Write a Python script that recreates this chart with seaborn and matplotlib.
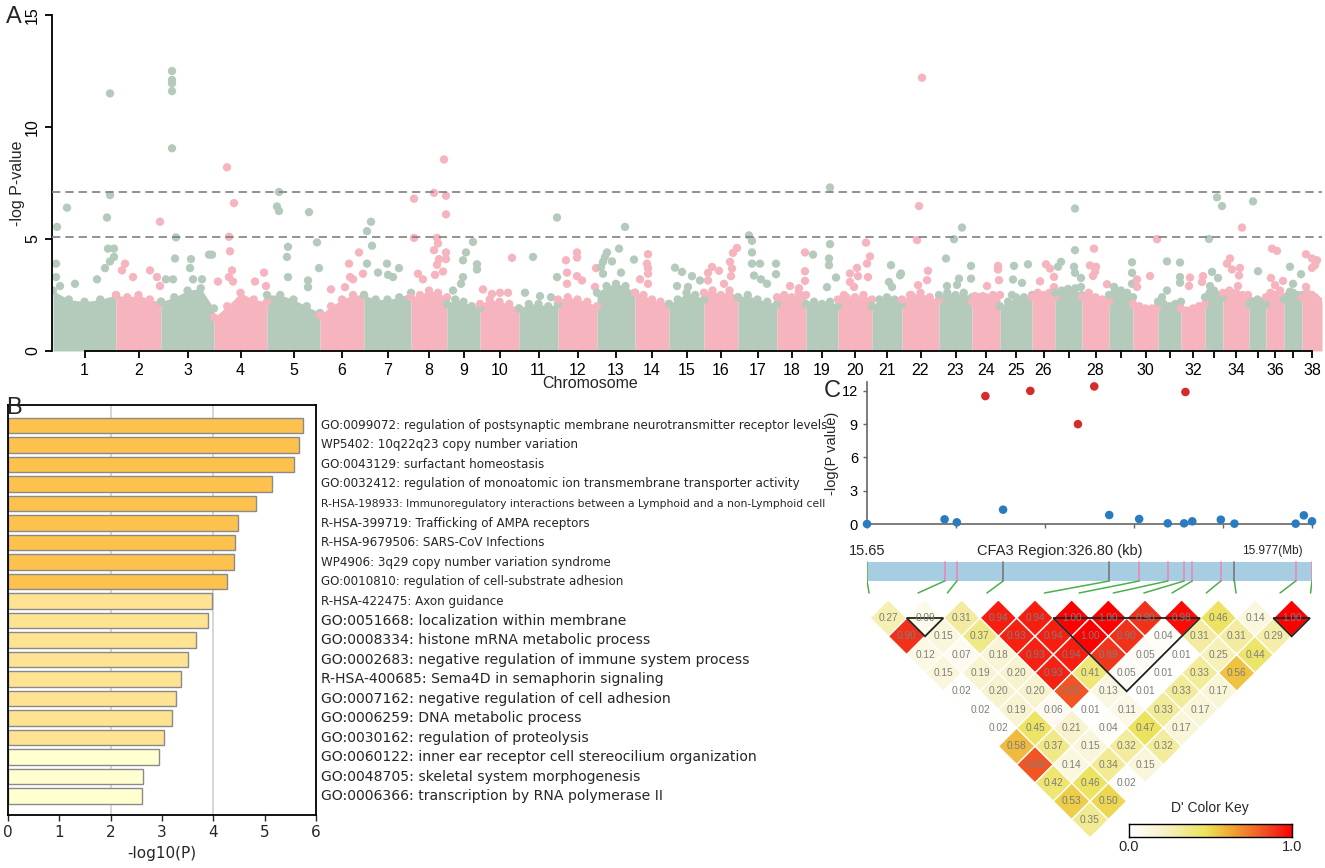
import numpy as np
import pandas as pd
import seaborn as sns
import matplotlib.pyplot as plt
from matplotlib.colors import LinearSegmentedColormap
from matplotlib.patches import Polygon, Rectangle

W, H = 1325, 868

# ---------------- panel A: manhattan ----------------
chrom_len = [63, 45, 53, 53, 53, 44, 47, 36, 33, 39, 39, 39, 38, 34, 35, 34, 39, 29, 32,
             34, 30, 37, 33, 28, 32, 23, 27, 27, 24, 25, 23, 24, 18, 26, 17, 18, 18, 20]
# top of the dense cloud of SNPs, read at 0, 1/4, 1/2, 3/4 and end of each chromosome
cloud_top = [
    [2.7, 2.3, 2.2, 2.3, 2.5], [2.5, 2.4, 2.5, 2.3, 2.2], [2.2, 2.4, 2.7, 2.8, 1.9],
    [1.5, 2.0, 2.6, 2.3, 2.2], [2.5, 2.5, 2.3, 2.0, 1.7], [1.6, 2.0, 2.3, 2.5, 2.5],
    [2.5, 2.3, 2.3, 2.4, 2.6], [2.4, 2.5, 2.7, 2.6, 2.4], [2.1, 2.3, 2.2, 2.0, 1.9],
    [2.1, 2.3, 2.2, 2.1, 1.9], [1.9, 2.1, 2.1, 2.0, 2.1], [2.3, 2.4, 2.3, 2.2, 2.0],
    [2.6, 2.9, 3.0, 2.9, 2.6], [2.6, 2.5, 2.3, 2.2, 2.1], [2.1, 2.3, 2.6, 2.5, 2.3],
    [2.6, 2.7, 2.5, 2.7, 2.4], [2.4, 2.5, 2.3, 2.2, 2.1], [2.4, 2.5, 2.4, 2.6, 2.5],
    [2.1, 2.2, 2.1, 2.2, 2.0], [2.3, 2.4, 2.4, 2.5, 2.3], [2.0, 2.3, 2.4, 2.3, 2.1],
    [2.3, 2.5, 2.6, 2.4, 2.3], [2.5, 2.6, 2.5, 2.6, 2.4], [2.2, 2.4, 2.4, 2.5, 2.5],
    [2.0, 2.2, 2.4, 2.4, 2.5], [2.4, 2.6, 2.5, 2.6, 2.4], [2.6, 2.7, 2.7, 2.8, 2.5],
    [2.4, 2.6, 2.4, 2.3, 2.2], [2.5, 2.7, 2.7, 2.6, 2.4], [2.1, 2.0, 1.9, 1.9, 2.0],
    [2.2, 2.1, 2.0, 2.1, 2.2], [1.9, 1.8, 1.9, 2.0, 2.1], [2.4, 2.6, 2.7, 2.5, 2.4],
    [2.6, 2.7, 2.6, 2.5, 2.3], [2.1, 2.2, 2.3, 2.2, 2.1], [2.4, 2.6, 2.5, 2.5, 2.4],
    [2.3, 2.5, 2.6, 2.5, 2.5], [2.4, 2.6, 2.5, 2.3, 2.2],
]
# individual SNPs standing out of the cloud: position inside the chromosome and -log P
peak_pos = [
    [4, 14, 3, 3, 7, 22, 57, 57, 54, 55, 61, 57, 61, 52, 44],
    [9, 6, 17, 34, 44, 41, 44],
    [11, 11, 11, 11, 11, 15, 14, 12, 5, 30, 29, 48, 51, 41, 32],
    [13, 20, 15, 16, 18, 15, 19, 4, 50, 41, 52],
    [12, 10, 12, 42, 21, 20, 21, 50, 41, 41, 52],
    [29, 39, 30, 33, 25, 11, 43],
    [7, 3, 8, 3, 14, 23, 24, 35, 29],
    [3, 3, 23, 33, 35, 35, 26, 27, 23, 28, 26, 35, 35, 24, 32, 7, 12],
    [26, 19, 16, 30, 30, 16, 14, 6],
    [3, 32, 12, 20, 28],
    [14, 6, 21, 38, 38, 32],
    [8, 9, 9, 19, 19, 19, 24, 38, 37],
    [28, 22, 10, 8, 6, 4, 15, 6, 24, 37],
    [13, 12, 13, 13, 5, 13],
    [6, 13, 23, 8, 19, 31],
    [33, 29, 26, 28, 8, 4, 15, 27, 20, 4],
    [11, 14, 14, 14, 22, 16, 23, 29, 38, 38],
    [28, 28, 28, 13, 22],
    [24, 24, 23, 23, 30, 7, 21],
    [28, 32, 29, 30, 19, 12, 20, 12, 16, 6],
    [19, 17, 28, 29, 20],
    [20, 17, 15, 26, 25, 16, 8],
    [23, 15, 7, 32, 20, 32, 8, 18],
    [26, 26, 27, 15, 11, 3],
    [14, 28, 13, 22, 12],
    [14, 18, 22, 8, 22],
    [20, 20, 6, 3, 19, 20, 26, 26, 13],
    [12, 8, 14, 13, 11, 25],
    [23, 23, 23, 5],
    [17, 4, 4, 24],
    [9, 9, 4, 22, 22, 22],
    [9, 8, 22, 21],
    [12, 17, 4, 7, 13, 5],
    [19, 7, 4, 9, 17, 16, 15, 25],
    [4, 9, 3],
    [6, 11, 5, 17, 9, 14],
    [6, 17, 9, 6],
    [4, 10, 15, 13, 10, 4, 13],
]
peak_logp = [
    [5.54, 6.4, 3.9, 3.3, 2.9, 3.0, 11.5, 6.96, 5.96, 4.57, 4.57, 4.0, 4.2, 3.7, 3.2],
    [3.9, 3.6, 3.3, 3.6, 5.77, 3.3, 2.9],
    [12.5, 12.1, 11.95, 11.6, 9.05, 5.07, 4.13, 3.2, 3.2, 4.1, 3.7, 4.3, 4.3, 3.2, 3.2],
    [8.2, 6.6, 5.1, 4.45, 3.6, 3.3, 3.1, 3.1, 3.5, 3.1, 2.9],
    [7.1, 6.45, 6.25, 6.2, 4.65, 4.2, 3.3, 4.85, 3.15, 2.85, 3.7],
    [3.9, 4.4, 3.3, 3.2, 2.85, 2.75, 3.45],
    [5.77, 5.35, 4.7, 3.9, 3.5, 3.9, 3.4, 3.7, 3.3],
    [6.8, 5.05, 7.06, 8.55, 6.93, 6.1, 5.05, 4.8, 4.5, 4.1, 3.85, 4.4, 4.1, 3.4, 3.55, 3.45, 3.2],
    [4.87, 4.4, 4.05, 3.87, 3.64, 3.3, 3.0, 2.7],
    [2.75, 4.16, 2.55, 2.6, 2.6],
    [4.2, 2.6, 2.45, 5.96, 3.3, 2.4],
    [4.05, 3.5, 3.0, 4.4, 4.17, 3.34, 3.15, 3.7, 2.86],
    [5.54, 4.57, 4.4, 4.2, 3.98, 3.75, 4.0, 3.45, 3.5, 4.08],
    [4.32, 3.9, 3.7, 3.45, 3.2, 3.0],
    [3.72, 3.53, 3.34, 2.9, 2.86, 3.15],
    [4.6, 4.38, 3.98, 3.68, 3.75, 3.49, 3.58, 3.34, 3.0, 3.15],
    [5.16, 4.92, 4.4, 3.9, 3.9, 3.37, 3.2, 3.0, 3.9, 3.43],
    [4.4, 3.56, 3.13, 2.9, 2.8],
    [7.3, 4.77, 4.13, 3.83, 3.28, 4.3, 2.85],
    [4.84, 4.22, 3.9, 3.3, 3.71, 3.46, 3.34, 3.08, 2.86, 2.5],
    [3.83, 3.08, 3.38, 3.46, 2.86],
    [12.2, 6.47, 4.95, 3.58, 3.16, 2.94, 2.5],
    [5.51, 4.99, 4.13, 3.8, 3.23, 3.23, 2.9, 2.95],
    [3.8, 3.64, 3.16, 2.9, 2.45, 2.45],
    [3.8, 3.87, 3.19, 3.04, 2.5],
    [3.87, 3.68, 3.31, 3.11, 2.85],
    [6.36, 4.5, 3.98, 3.76, 3.76, 3.49, 3.26, 2.86, 2.77],
    [4.57, 3.82, 3.76, 3.53, 3.35, 2.98],
    [3.96, 3.49, 3.0, 2.86],
    [3.35, 3.19, 2.86, 4.99],
    [4.0, 2.7, 2.4, 3.95, 3.3, 3.05],
    [3.28, 2.9, 3.34, 3.08],
    [6.86, 6.47, 5.0, 3.53, 3.26, 2.9],
    [5.51, 4.13, 3.9, 3.64, 3.71, 3.37, 2.9, 2.5],
    [6.68, 3.56, 2.2],
    [4.57, 4.47, 3.26, 3.13, 2.94, 2.7],
    [3.76, 3.43, 3.0, 2.65],
    [4.32, 4.13, 4.05, 3.83, 3.71, 2.86, 2.4],
]
thresholds = [7.1, 5.1]
hidden_tick_labels = [27, 29, 31, 33, 35, 37]

# ---------------- panel B: enrichment ----------------
terms = [
    "GO:0099072: regulation of postsynaptic membrane neurotransmitter receptor levels",
    "WP5402: 10q22q23 copy number variation",
    "GO:0043129: surfactant homeostasis",
    "GO:0032412: regulation of monoatomic ion transmembrane transporter activity",
    "R-HSA-198933: Immunoregulatory interactions between a Lymphoid and a non-Lymphoid cell",
    "R-HSA-399719: Trafficking of AMPA receptors",
    "R-HSA-9679506: SARS-CoV Infections",
    "WP4906: 3q29 copy number variation syndrome",
    "GO:0010810: regulation of cell-substrate adhesion",
    "R-HSA-422475: Axon guidance",
    "GO:0051668: localization within membrane",
    "GO:0008334: histone mRNA metabolic process",
    "GO:0002683: negative regulation of immune system process",
    "R-HSA-400685: Sema4D in semaphorin signaling",
    "GO:0007162: negative regulation of cell adhesion",
    "GO:0006259: DNA metabolic process",
    "GO:0030162: regulation of proteolysis",
    "GO:0060122: inner ear receptor cell stereocilium organization",
    "GO:0048705: skeletal system morphogenesis",
    "GO:0006366: transcription by RNA polymerase II",
]
term_logp = [5.74, 5.66, 5.58, 5.15, 4.83, 4.49, 4.42, 4.41, 4.27, 3.97,
             3.89, 3.67, 3.51, 3.37, 3.27, 3.20, 3.04, 2.94, 2.63, 2.62]
term_tier = ["high"] * 9 + ["mid"] * 8 + ["low"] * 3

# ---------------- panel C: regional plot + LD ----------------
snp_mb = [15.650, 15.707, 15.716, 15.737, 15.750, 15.770, 15.805, 15.817, 15.828, 15.850,
          15.871, 15.884, 15.883, 15.889, 15.910, 15.920, 15.965, 15.971, 15.977]
snp_logp = [0.0, 0.42, 0.15, 11.53, 1.29, 12.0, 9.0, 12.4, 0.81, 0.45,
            0.06, 11.9, 0.06, 0.24, 0.39, 0.03, 0.03, 0.78, 0.24]
ld_snp_mb = [15.650, 15.707, 15.716, 15.750, 15.828, 15.850, 15.871, 15.883, 15.889,
             15.910, 15.920, 15.965, 15.977]
ld_snp_kind = ["g", "p", "p", "k", "k", "p", "p", "p", "p", "p", "k", "p", "p"]
# D' values, row r holds pairs (i, i + r)
ld_rows = [
    [0.27, 0.09, 0.31, 0.94, 0.94, 1.00, 1.00, 0.90, 0.98, 0.46, 0.14, 1.00],
    [0.90, 0.15, 0.37, 0.93, 0.94, 1.00, 0.90, 0.04, 0.31, 0.31, 0.29],
    [0.12, 0.07, 0.18, 0.93, 0.94, 0.89, 0.05, 0.01, 0.25, 0.44],
    [0.15, 0.19, 0.20, 0.93, 0.41, 0.05, 0.01, 0.33, 0.56],
    [0.02, 0.20, 0.20, 0.82, 0.13, 0.01, 0.33, 0.17],
    [0.02, 0.19, 0.06, 0.01, 0.11, 0.33, 0.17],
    [0.02, 0.45, 0.21, 0.04, 0.47, 0.17],
    [0.58, 0.37, 0.15, 0.32, 0.32],
    [0.82, 0.14, 0.34, 0.15],
    [0.42, 0.46, 0.02],
    [0.53, 0.50],
    [0.35],
]
ld_blocks = [(1, 2), (5, 9), (11, 12)]
region_start, region_end = 15.65, 15.977


def px_box(x0, y0, x1, y1):
    return [x0 / W, 1 - y1 / H, (x1 - x0) / W, (y1 - y0) / H]


sns.set_style("white")
plt.rcParams["font.family"] = ["Liberation Sans", "DejaVu Sans"]

fig = plt.figure(figsize=(W / 100, H / 100), dpi=100)

# ======== A ========
green, pink = "#b4cbbc", "#f5b4be"
axA = fig.add_axes(px_box(52, 15, 1322, 351))
starts = np.concatenate([[0], np.cumsum(chrom_len)[:-1]])
mids = starts + np.array(chrom_len) / 2

rows = []
for i, L in enumerate(chrom_len):
    col = green if i % 2 == 0 else pink
    xs = np.linspace(starts[i], starts[i] + L, len(cloud_top[i]))
    axA.fill_between(xs, 0, cloud_top[i], color=col, lw=0, zorder=1)
    for x, y in zip(xs, cloud_top[i]):
        rows.append((x, y, i % 2))
    for p, v in zip(peak_pos[i], peak_logp[i]):
        rows.append((starts[i] + p, v, i % 2))
dfA = pd.DataFrame(rows, columns=["x", "logp", "band"])
sns.scatterplot(data=dfA, x="x", y="logp", hue="band", palette={0: green, 1: pink},
                s=36, linewidth=0, legend=False, ax=axA, zorder=2)
for t in thresholds:
    axA.axhline(t, color="#7f7f7f", ls=(0, (5, 3)), lw=1.2, zorder=3)

axA.set_xlim(-1, sum(chrom_len))
axA.set_ylim(0, 15)
sns.despine(ax=axA)
axA.spines["left"].set_bounds(0, 15)
axA.spines["bottom"].set_bounds(mids[0], mids[-1])
for s in ("left", "bottom"):
    axA.spines[s].set_linewidth(1.3)
    axA.spines[s].set_color("black")
axA.set_yticks([0, 5, 10, 15])
axA.set_yticklabels(["0", "5", "10", "15"], rotation=90, va="center")
axA.set_xticks(mids)
axA.set_xticklabels(["" if c in hidden_tick_labels else str(c) for c in range(1, 39)])
axA.tick_params(axis="both", direction="out", length=5, width=1.3, labelsize=11.5,
                bottom=True, left=True, colors="black")
axA.set_xlabel("Chromosome", fontsize=11.5)
axA.set_ylabel("-log P-value", fontsize=11.5)
axA.xaxis.set_label_coords(0.424, -0.075)
axA.yaxis.set_label_coords(-0.021, 0.5)
fig.text(14 / W, 1 - 17 / H, "A", fontsize=17, ha="center", va="center")

# ======== B ========
axB = fig.add_axes(px_box(8, 405, 316, 815))
dfB = pd.DataFrame({"term": terms, "logp": term_logp, "tier": term_tier})
sns.barplot(data=dfB, x="logp", y="term", hue="tier", orient="h", dodge=False,
            palette={"high": "#fdc14e", "mid": "#fee392", "low": "#ffffd0"}, saturation=1,
            edgecolor="#8a8a8a", linewidth=1, width=0.8, legend=False, ax=axB, zorder=2)
axB.set_xlim(0, 6)
axB.set_ylim(len(terms) - 0.03, -1.05)
for gx in (2, 4):
    axB.axvline(gx, color="#cfcfcf", lw=1.2, zorder=0)
axB.set_yticks([])
axB.set_ylabel("")
axB.set_xticks(range(7))
axB.set_xlabel("-log10(P)", fontsize=11, family="DejaVu Sans", labelpad=4)
axB.tick_params(axis="x", direction="out", length=4, width=1, labelsize=11, bottom=True)
for lbl in axB.get_xticklabels():
    lbl.set_family("DejaVu Sans")
for s in axB.spines.values():
    s.set_color("black")
    s.set_linewidth(1.3)
term_texts = []
for i, t in enumerate(terms):
    size = 8.6 if i < 10 else 10.1
    term_texts.append(axB.text(6.09, i, t, ha="left", va="center", fontsize=size,
                               family="DejaVu Sans", clip_on=False))
fig.text(14 / W, 1 - 408 / H, "B", fontsize=17, ha="center", va="center")

# ======== C top ========
axC = fig.add_axes(px_box(867, 382, 1312, 524))
dfC = pd.DataFrame({"mb": snp_mb, "logp": snp_logp,
                    "lead": [v > 5 for v in snp_logp]})
sns.scatterplot(data=dfC, x="mb", y="logp", hue="lead",
                palette={True: "#d62b2b", False: "#2b7bc0"}, s=38, linewidth=0,
                legend=False, ax=axC, clip_on=False, zorder=3)
axC.set_xlim(region_start, region_end)
axC.set_ylim(0, 12.8)
sns.despine(ax=axC)
for s in ("left", "bottom"):
    axC.spines[s].set_color("#666666")
    axC.spines[s].set_linewidth(1.2)
axC.set_yticks([0, 3, 6, 9, 12])
axC.set_xticks(np.linspace(region_start, region_end, 6))
axC.set_xticklabels([])
axC.tick_params(axis="both", direction="out", length=3, width=1, colors="#666666",
                labelcolor="black", labelsize=10.5, bottom=True, left=True)
axC.set_xlabel("")
axC.set_ylabel("-log(P value)", fontsize=10.5, labelpad=2)
fig.text(832 / W, 1 - 391 / H, "C", fontsize=17, ha="center", va="center")

# ======== C bottom: gene bar + LD ========
axL = fig.add_axes(px_box(867, 540, 1312, 860))
axL.set_xlim(region_start, region_end)
axL.set_ylim(320, 0)
axL.axis("off")
mb_px = (region_end - region_start) / 445.0

axL.add_patch(Rectangle((region_start, 22), region_end - region_start, 19,
                        facecolor="#a7cde3", edgecolor="none"))
heat_x = np.linspace(region_start + 3 * mb_px, region_end - 2 * mb_px, len(ld_snp_mb))
kind_col = {"p": "#e58ab8", "k": "#777777", "g": "#5cb85c"}
for k, m in enumerate(ld_snp_mb):
    axL.plot([m, m], [22, 41], color=kind_col[ld_snp_kind[k]], lw=1.2)
    axL.plot([m, m + 0.7 * (heat_x[k] - m)], [41, 53], color="#4daf4a", lw=1.1)

axL.text(region_start, 11, "15.65", ha="center", va="center", fontsize=10.5)
axL.text(region_start + 0.434 * (region_end - region_start), 11, "CFA3 Region:326.80 (kb)",
         ha="center", va="center", fontsize=10.5)
axL.text(region_start + 0.978 * (region_end - region_start), 11, "15.977(Mb)",
         ha="right", va="center", fontsize=8.5)

ld_cmap = LinearSegmentedColormap.from_list(
    "dprime", [(0.0, "#ffffff"), (0.2, "#f8f3cf"), (0.47, "#ece35c"), (0.56, "#efc23f"),
               (0.8, "#f25e24"), (0.9, "#f2321a"), (1.0, "#ff0000")])
hw = (heat_x[1] - heat_x[0]) / 2
hh = hw / mb_px
y0 = 78
for r, row in enumerate(ld_rows, start=1):
    for i, v in enumerate(row):
        j = i + r
        cx = (heat_x[i] + heat_x[j]) / 2
        cy = y0 + (r - 1) * hh
        axL.add_patch(Polygon([(cx - hw, cy), (cx, cy - hh), (cx + hw, cy), (cx, cy + hh)],
                              closed=True, facecolor=ld_cmap(v), edgecolor="white", lw=1))
        axL.text(cx, cy, f"{v:.2f}", ha="center", va="center", fontsize=7.3, color="#7d7d7d")
for a, b in ld_blocks:
    axL.add_patch(Polygon([(heat_x[a], y0), (heat_x[b], y0),
                           ((heat_x[a] + heat_x[b]) / 2, y0 + (b - a) * hh)],
                          closed=True, fill=False, edgecolor="#222222", lw=1.3))

axK = fig.add_axes(px_box(1129, 824, 1292, 837))
axK.imshow(np.linspace(0, 1, 256)[None, :], aspect="auto", cmap=ld_cmap)
axK.set_xticks([])
axK.set_yticks([])
for s in axK.spines.values():
    s.set_visible(True)
    s.set_color("black")
    s.set_linewidth(1)
fig.text(1210 / W, 1 - 808 / H, "D' Color Key", fontsize=10, ha="center", va="center")
fig.text(1129 / W, 1 - 847 / H, "0.0", fontsize=10.5, ha="center", va="center")
fig.text(1292 / W, 1 - 847 / H, "1.0", fontsize=10.5, ha="center", va="center")

# shrink the longest term labels so they fit the label column
fig.canvas.draw()
renderer = fig.canvas.get_renderer()
for t in term_texts:
    w = t.get_window_extent(renderer).width
    if w > 505:
        t.set_fontsize(t.get_fontsize() * 505 / w)

fig.savefig("out.png", dpi=100)
